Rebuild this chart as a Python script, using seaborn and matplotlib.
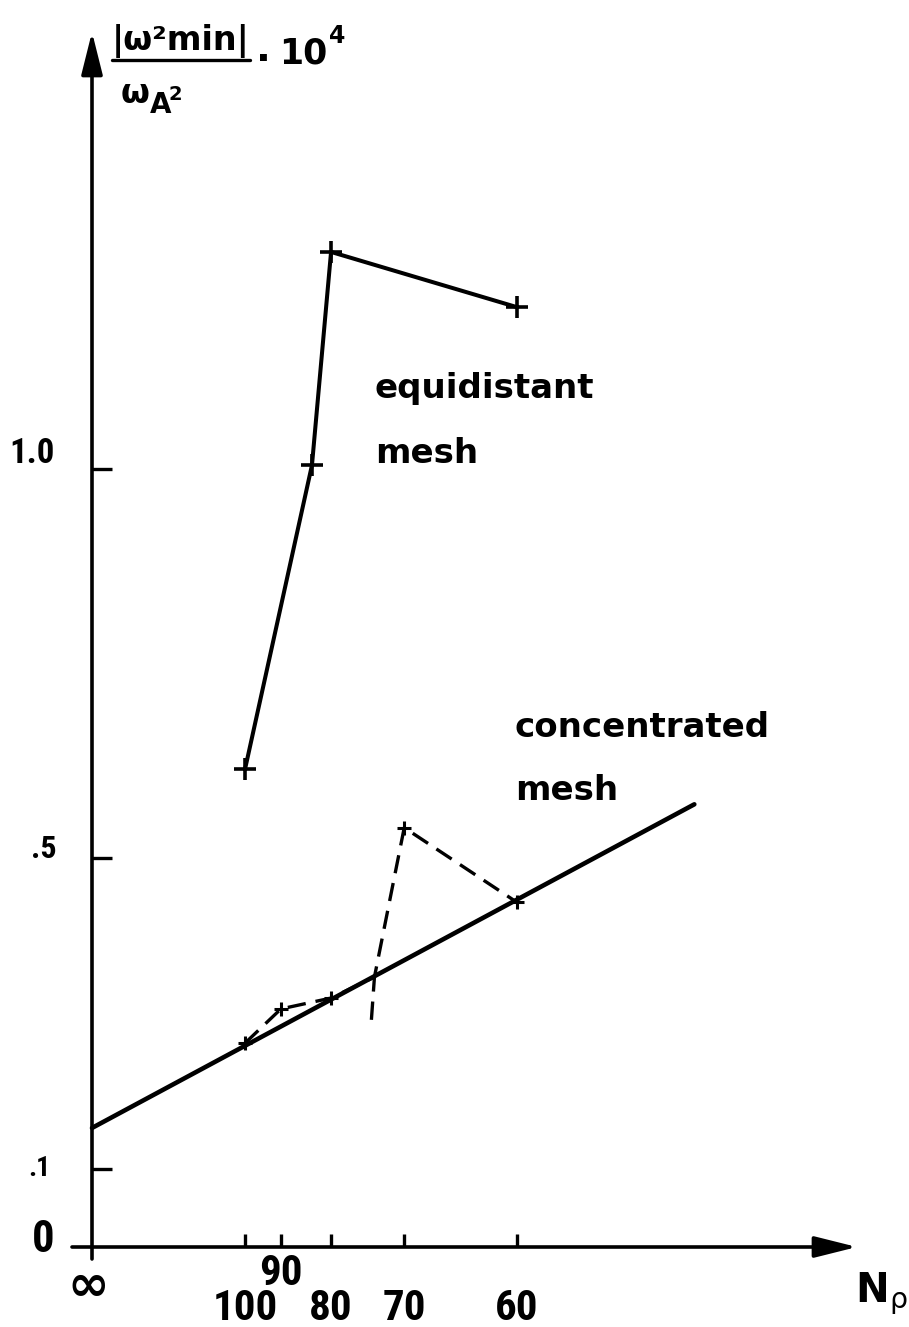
import numpy as np
import matplotlib
matplotlib.use("Agg")
import matplotlib.pyplot as plt
from matplotlib import font_manager as fm
from matplotlib.lines import Line2D
from matplotlib.transforms import offset_copy
import seaborn as sns

# Radial mesh resolution N_rho and |omega^2_min| / omega_A^2 * 10^4
equi_N = [100, 83.4, 80, 60]
equi_val = [0.614, 1.005, 1.279, 1.208]

conc_N = [100, 90, 80, 73.6, 70, 60]
conc_val = [0.262, 0.306, 0.320, 0.347, 0.539, 0.443]

conc_tail_N = [74.0, 73.6]
conc_tail_val = [0.292, 0.347]

fit_N = [np.inf, 50.4]
fit_val = [0.153, 0.569]

xtick_N = [np.inf, 100, 90, 80, 70, 60]
xtick_labels = ["∞", "100", "90", "80", "70", "60"]
ytick_vals = [0.0, 0.1, 0.5, 1.0]
ytick_labels = ["0", ".1", ".5", "1.0"]


def inv_sq(N):
    """Abscissa of the plot: 10^4 / N^2 (N = inf sits at the origin)."""
    return 1e4 / np.asarray(N, dtype=float) ** 2


sns.set_style("white")
plt.rcParams["font.family"] = ["DejaVu Sans"]
plt.rcParams["mathtext.default"] = "regular"

# narrow lettering for the numbers, if such a face is installed
_names = {f.name for f in fm.fontManager.ttflist}
_narrow = [n for n in ("Liberation Sans Narrow", "Roboto Condensed",
                       "Open Sans Condensed", "DejaVu Sans Condensed")
           if n in _names]
_dv_cond = any(f.name == "DejaVu Sans" and f.stretch in ("condensed", 700, 600)
               for f in fm.fontManager.ttflist)
if _narrow:
    NUM_KW = dict(family=[_narrow[0], "DejaVu Sans"], fontweight="bold")
    NUM_SCALE = 1.0
elif _dv_cond:
    NUM_KW = dict(family=["DejaVu Sans"], fontstretch="condensed",
                  fontweight="bold")
    NUM_SCALE = 0.9
else:
    NUM_KW = dict(family=["DejaVu Sans"], fontweight="bold")
    NUM_SCALE = 0.8

W, H = 909, 1327
X0, SX = 92, 153.0     # pixel column of the origin, pixels per abscissa unit
Y0, SY = 1247, 778.0   # pixel row of the origin, pixels per ordinate unit

fig = plt.figure(figsize=(W / 100, H / 100), dpi=100)
ax = fig.add_axes([0, 0, 1, 1])
ax.set_xlim(-X0 / SX, (W - X0) / SX)
ax.set_ylim(-(H - Y0) / SY, Y0 / SY)
for side in ("top", "right"):
    ax.spines[side].set_visible(False)
for side in ("bottom", "left"):
    ax.spines[side].set_position(("data", 0))
    ax.spines[side].set_visible(False)


def fx(px):
    return px / W


def fy(py):
    return 1 - py / H


# axes with arrow heads
arrow_kw = dict(arrowstyle="-|>,head_length=1.0,head_width=0.25", lw=2.6,
                color="black", shrinkA=0, shrinkB=0, mutation_scale=26)
ax.annotate("", xy=((857 - X0) / SX, 0), xytext=((72 - X0) / SX, 0),
            arrowprops=arrow_kw)
ax.annotate("", xy=(0, (Y0 - 32) / SY), xytext=(0, -(1259 - Y0) / SY),
            arrowprops=arrow_kw)

# ticks pointing into the plot
ax.set_xticks(inv_sq(xtick_N[1:]))
ax.set_yticks(ytick_vals[1:])
ax.tick_params(axis="x", bottom=True, direction="in", length=9.5, width=2.4,
               color="black", labelbottom=False)
ax.tick_params(axis="y", left=True, direction="in", length=14.5, width=2.4,
               color="black", labelleft=False)

# tick labels
x_drop = [34, 57, 22, 57, 57, 57]
x_size = [36, 31, 31, 31, 31, 31]
for N, lab, d, s in zip(xtick_N, xtick_labels, x_drop, x_size):
    tr = offset_copy(ax.transData, fig=fig, x=(-3 if lab == "∞" else 0),
                     y=-d * 0.72, units="points")
    if lab == "∞":
        kw = dict(family=["DejaVu Sans"], fontweight="bold", fontsize=s)
    else:
        kw = dict(NUM_KW, fontsize=s * NUM_SCALE)
    ax.text(inv_sq([N])[0], 0, lab, transform=tr, ha="center",
            va="center_baseline", color="black", **kw)

y_rise = [12, 4, 12, 19]
y_size = [32, 20, 23, 25]
y_right = [55, 50, 57, 55]
for v, lab, r, s, xr in zip(ytick_vals, ytick_labels, y_rise, y_size, y_right):
    tr = offset_copy(ax.transData, fig=fig, x=(xr - X0) * 0.72, y=r * 0.72,
                     units="points")
    ax.text(0, v, lab, transform=tr, ha="right", va="center_baseline",
            color="black", **dict(NUM_KW, fontsize=s * NUM_SCALE))

# fitted line for the concentrated mesh
sns.lineplot(x=inv_sq(fit_N), y=fit_val, ax=ax, color="black", lw=3.3,
             sort=False, solid_capstyle="round")

# equidistant mesh
sns.lineplot(x=inv_sq(equi_N), y=equi_val, ax=ax, color="black", lw=2.9,
             sort=False, marker="+", markersize=16, markeredgewidth=2.6,
             markeredgecolor="black", solid_capstyle="round")

# concentrated mesh
dash = (0, (5.5, 3.0))
sns.lineplot(x=inv_sq(conc_N), y=conc_val, ax=ax, color="black", lw=2.4,
             sort=False, linestyle=dash, marker="+", markersize=10,
             markeredgewidth=2.2, markeredgecolor="black",
             markevery=[0, 1, 2, 4, 5])
sns.lineplot(x=inv_sq(conc_tail_N), y=conc_tail_val, ax=ax, color="black",
             lw=2.4, sort=False, linestyle=dash)

# curve labels
for s, px, py in [("equidistant", 375, 398), ("mesh", 375, 463),
                  ("concentrated", 515, 737), ("mesh", 515, 800)]:
    fig.text(fx(px), fy(py), s, fontsize=24.5, fontweight="bold", ha="left",
             va="baseline", color="black")

# axis titles
fig.text(fx(855), fy(1302), r"$\mathbf{N}_{\rho}$", fontsize=29, ha="left",
         va="baseline", color="black")

fig.text(fx(181), fy(50), "|ω²min|", fontsize=24, fontweight="bold",
         ha="center", va="baseline", color="black")
fig.add_artist(Line2D([fx(112), fx(250)], [fy(60), fy(60)], lw=2.4,
                      color="black"))
fig.text(fx(121), fy(103), "ω", fontsize=24, fontweight="bold", ha="left",
         va="baseline", color="black")
fig.text(fx(150), fy(113), "A", fontsize=20, fontweight="bold", ha="left",
         va="baseline", color="black")
fig.text(fx(169), fy(100), "2", fontsize=14, fontweight="bold", ha="left",
         va="baseline", color="black")
fig.text(fx(263), fy(60), "·", fontsize=28, fontweight="bold", ha="center",
         va="center", color="black")
fig.text(fx(279), fy(63), "10", fontsize=25, fontweight="bold", ha="left",
         va="baseline", color="black")
fig.text(fx(329), fy(43), "4", fontsize=17, fontweight="bold", ha="left",
         va="baseline", color="black")

fig.savefig("out.png", dpi=100, facecolor="white")
